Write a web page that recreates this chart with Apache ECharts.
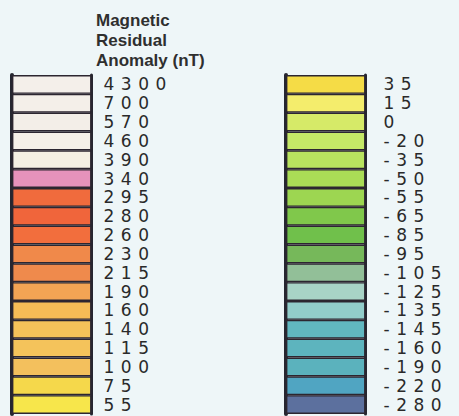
<!DOCTYPE html>
<html>
<head>
<meta charset="utf-8">
<script src="https://cdn.jsdelivr.net/npm/echarts@6/dist/echarts.min.js"></script>
<style>
  html, body { margin: 0; padding: 0; background: #eef6f8; }
  #chart { width: 459px; height: 416px; }
  svg text { letter-spacing: 6.5px; }
  svg text[style*="Liberation"] { letter-spacing: 0px; }
</style>
</head>
<body>
<div id="chart"></div>
<script>
// Legend class labels (nT)
const leftLabels = ['4300','700','570','460','390','340','295','280','260','230','215','190','160','140','115','100','75','55'];
const rightLabels = ['35','15','0','-20','-35','-50','-55','-65','-85','-95','-105','-125','-135','-145','-160','-190','-220','-280'];
// Swatch colours for each class
const leftColors = ['#f4efea','#f4efe9','#f3eee8','#f5f0e8','#f4f0e4','#e692bb','#f06b3d','#f0653b','#f26e3d','#f0894a','#ef8a4c','#f3a454','#f5bc56','#f5c259','#f4c35b','#f3c05d','#f5d84b','#f7e64b'];
const rightColors = ['#f5dc46','#f4ed6c','#d6ea68','#c5e867','#b9e35f','#aadc56','#9dd651','#80c84b','#70c04b','#76b85a','#92bf98','#a8d3c6','#92cdca','#61b7c0','#5db4be','#5bb2bd','#50a5c2','#5c709e'];

const chart = echarts.init(document.getElementById('chart'), null, { renderer: 'svg' });

const labelFont = 'DejaVu Sans';
function makeAxes(gridIndex, labels, margin) {
  return [
    {
      type: 'category', gridIndex, data: labels, inverse: true, position: 'left',
      axisLine: { show: true, lineStyle: { color: '#262630', width: 4 } },
      axisTick: { show: false }, axisLabel: { show: false }, splitLine: { show: false }
    },
    {
      type: 'category', gridIndex, data: labels, inverse: true, position: 'right',
      axisLine: { show: true, lineStyle: { color: '#262630', width: 3 } },
      axisTick: { show: false },
      axisLabel: { show: true, interval: 0, margin, align: 'left', fontFamily: labelFont, fontSize: 17, lineHeight: 17, color: '#2a2a2a' },
      splitLine: { show: false }
    }
  ];
}

const yAxes = makeAxes(0, leftLabels, 12).concat(makeAxes(1, rightLabels, 18));

function makeSeries(labels, colors, xi, yi) {
  return {
    type: 'bar', xAxisIndex: xi, yAxisIndex: yi,
    barWidth: '100%', barCategoryGap: 0,
    silent: true,
    itemStyle: { borderColor: '#2c2630', borderWidth: 1.4 },
    data: labels.map((l, i) => ({ value: 1, itemStyle: { color: colors[i] } })),
    z: 1
  };
}

chart.setOption({
  backgroundColor: '#eef6f8',
  animation: false,
  title: {
    text: 'Magnetic\nResidual\nAnomaly (nT)',
    left: 96, top: 10, padding: 0,
    textStyle: { fontFamily: 'Liberation Sans', fontWeight: 'bold', fontSize: 17, lineHeight: 20, color: '#2f2f2f' }
  },
  grid: [
    { left: 12, top: 75, width: 79.5, height: 339 },
    { left: 286, top: 75, width: 79.5, height: 339 }
  ],
  xAxis: [
    { type: 'value', gridIndex: 0, min: 0, max: 1, show: false },
    { type: 'value', gridIndex: 1, min: 0, max: 1, show: false }
  ],
  yAxis: yAxes,
  series: [
    makeSeries(leftLabels, leftColors, 0, 0),
    makeSeries(rightLabels, rightColors, 1, 2)
  ]
});
</script>
</body>
</html>
